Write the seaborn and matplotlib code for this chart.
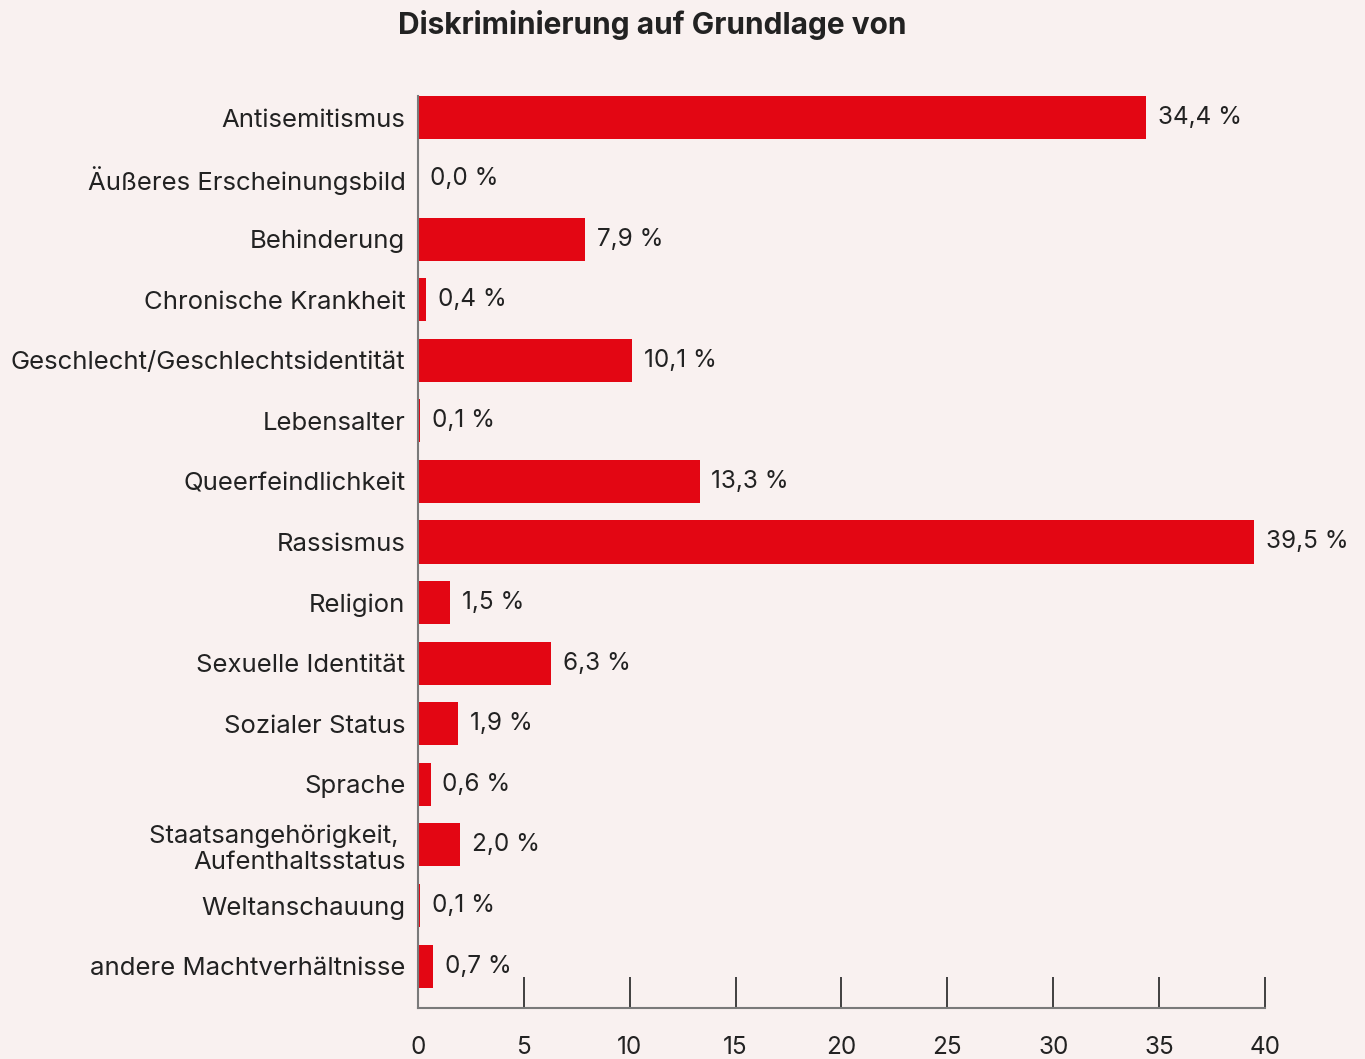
import pandas as pd
import matplotlib
matplotlib.use('Agg')
import matplotlib.pyplot as plt
import seaborn as sns

# data
categories = [
    'Antisemitismus',
    'Äußeres Erscheinungsbild',
    'Behinderung',
    'Chronische Krankheit',
    'Geschlecht/Geschlechtsidentität',
    'Lebensalter',
    'Queerfeindlichkeit',
    'Rassismus',
    'Religion',
    'Sexuelle Identität',
    'Sozialer Status',
    'Sprache',
    'Staatsangehörigkeit, \nAufenthaltsstatus',
    'Weltanschauung',
    'andere Machtverhältnisse',
]
shares = [34.4, 0.0, 7.9, 0.4, 10.1, 0.1, 13.3, 39.5, 1.5, 6.3, 1.9, 0.6, 2.0, 0.1, 0.7]
x_ticks = [0, 5, 10, 15, 20, 25, 30, 35, 40]

bg = '#f9f1f0'
red = '#e30613'
ink = '#222222'

df = pd.DataFrame({'Kategorie': categories, 'Anteil': shares})

sns.set_theme(style='white')
plt.rcParams['font.family'] = ['Inter', 'DejaVu Sans']

fig = plt.figure(figsize=(13.65, 10.59), dpi=100, facecolor=bg)
ax = fig.add_axes([0.3062, 0.0482, 0.6205, 0.8800])
ax.set_facecolor(bg)

bar_w = 0.71
sns.barplot(data=df, x='Anteil', y='Kategorie', color=red, width=bar_w,
            saturation=1, linewidth=0, ax=ax)

labels = [f'{v:.1f}'.replace('.', ',') + ' %' for v in shares]
ax.bar_label(ax.containers[0], labels=labels, padding=8.5, fontsize=17.5, color=ink)

n = len(categories)
ax.set_xlim(0, 40)
ax.set_ylim(n - 1 + 0.69, -0.69)
ax.set_xticks(x_ticks)
ax.set_xticklabels([str(t) for t in x_ticks], fontsize=17.5, color=ink)
ax.tick_params(axis='x', bottom=True, direction='in', length=22, width=1.2,
               color=ink, pad=20)
ax.tick_params(axis='y', left=False, length=0, pad=9, labelsize=18.5, labelcolor=ink)
ax.set_xlabel('')
ax.set_ylabel('')

for side in ['top', 'right']:
    ax.spines[side].set_visible(False)
for side in ['left', 'bottom']:
    ax.spines[side].set_color('#7a7a7a')
    ax.spines[side].set_linewidth(1.5)
ax.spines['left'].set_bounds(n - 1 + 0.69, -bar_w / 2)

fig.text(652 / 1365, 1 - 25 / 1059, 'Diskriminierung auf Grundlage von',
         ha='center', va='center', fontsize=21.5, fontweight='bold', color=ink)

fig.savefig('out.png', dpi=100, facecolor=bg)
